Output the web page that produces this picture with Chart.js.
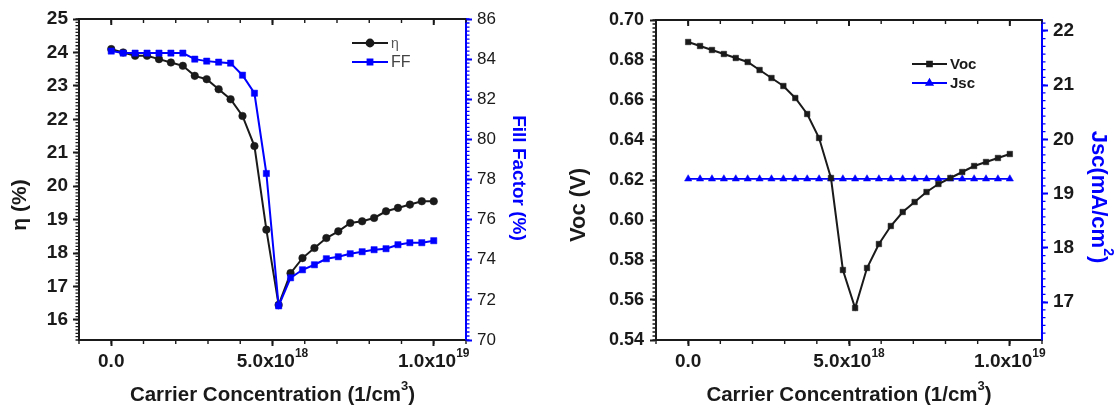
<!DOCTYPE html>
<html>
<head>
<meta charset="utf-8">
<script src="https://cdn.jsdelivr.net/npm/chart.js@4.4.1/dist/chart.umd.min.js"></script>
<style>
  html, body { margin: 0; padding: 0; background: #fff; }
  #wrap { position: relative; width: 1118px; height: 410px; overflow: hidden; background: #fff; }
  #wrap canvas { position: absolute; top: 0; }
  #cvEta { left: 0; }
  #cvVoc { left: 560px; }
</style>
</head>
<body>
<div id="wrap">
  <canvas id="cvEta" width="550" height="410"></canvas>
  <canvas id="cvVoc" width="558" height="410"></canvas>
</div>
<script>
const FONT = '"Liberation Sans", Arial, Helvetica, sans-serif';
const INK = '#1a1a1a';
const BLUE = '#0000ff';

// carrier concentration (1/cm3) of each simulated point
const carrier = [0, 3.7e17, 7.4e17, 1.11e18, 1.48e18, 1.85e18, 2.22e18, 2.59e18, 2.96e18, 3.33e18,
  3.70e18, 4.07e18, 4.44e18, 4.81e18, 5.19e18, 5.56e18, 5.93e18, 6.30e18, 6.67e18, 7.04e18,
  7.41e18, 7.78e18, 8.15e18, 8.52e18, 8.89e18, 9.26e18, 9.63e18, 1.0e19];

// efficiency (%) and fill factor (%)
const eta = [24.1, 24.0, 23.9, 23.9, 23.8, 23.7, 23.6, 23.3, 23.2, 22.9,
  22.6, 22.1, 21.2, 18.7, 16.45, 17.4, 17.85, 18.15, 18.45, 18.65,
  18.9, 18.95, 19.05, 19.25, 19.35, 19.45, 19.55, 19.55];
const fillFactor = [84.4, 84.3, 84.3, 84.3, 84.3, 84.3, 84.3, 84.0, 83.9, 83.85,
  83.8, 83.2, 82.3, 78.3, 71.7, 73.1, 73.5, 73.75, 74.05, 74.15,
  74.3, 74.4, 74.5, 74.55, 74.75, 74.85, 74.85, 74.95];

// open circuit voltage (V) and short circuit current (mA/cm2)
const voc = [0.689, 0.687, 0.685, 0.683, 0.681, 0.679, 0.675, 0.671, 0.667, 0.661,
  0.653, 0.641, 0.621, 0.575, 0.556, 0.576, 0.588, 0.597, 0.604, 0.609,
  0.614, 0.618, 0.621, 0.624, 0.627, 0.629, 0.631, 0.633];
const jsc = [19.27, 19.27, 19.27, 19.27, 19.27, 19.27, 19.27, 19.27, 19.27, 19.27,
  19.27, 19.27, 19.27, 19.27, 19.27, 19.27, 19.27, 19.27, 19.27, 19.27,
  19.27, 19.27, 19.27, 19.27, 19.27, 19.27, 19.27, 19.27];

// axis ticks
const xMajor = [0, 5e18, 1e19];
const xTickBase = ['0.0', '5.0x10', '1.0x10'];
const xTickExp = ['', '18', '19'];
const etaTicks = [16, 17, 18, 19, 20, 21, 22, 23, 24, 25];
const ffTicks = [70, 72, 74, 76, 78, 80, 82, 84, 86];
const vocTicks = [0.54, 0.56, 0.58, 0.60, 0.62, 0.64, 0.66, 0.68, 0.70];
const jscTicks = [17, 18, 19, 20, 21, 22];

const pts = ys => carrier.map((x, i) => ({ x, y: ys[i] }));

// text made of runs: [text, size, raise]
function drawRuns(ctx, runs, x, y, color) {
  let w = 0;
  runs.forEach(r => { ctx.font = `bold ${r[1]}px ${FONT}`; w += ctx.measureText(r[0]).width; });
  let cx = x - w / 2;
  ctx.fillStyle = color;
  ctx.textAlign = 'left';
  ctx.textBaseline = 'middle';
  runs.forEach(r => {
    ctx.font = `bold ${r[1]}px ${FONT}`;
    ctx.fillText(r[0], cx, y - (r[2] || 0));
    cx += ctx.measureText(r[0]).width;
  });
}

function minorTicks(ctx, scale, step, from, len, vertical) {
  const n0 = Math.ceil(scale.min / step - 1e-6), n1 = Math.floor(scale.max / step + 1e-6);
  ctx.beginPath();
  for (let n = n0; n <= n1; n++) {
    const p = scale.getPixelForValue(n * step);
    if (vertical) { ctx.moveTo(p, from); ctx.lineTo(p, from + len); }
    else { ctx.moveTo(from, p); ctx.lineTo(from + len, p); }
  }
  ctx.stroke();
}

// frame, minor ticks, superscript labels, titles and legend
function decor(spec) {
  return {
    id: 'decor',
    afterDraw(chart) {
      const ctx = chart.ctx, a = chart.chartArea, xs = chart.scales.x;
      ctx.save();
      ctx.lineWidth = 1.4;
      ctx.strokeStyle = INK;
      minorTicks(ctx, xs, 1e18, a.bottom, 4, true);
      minorTicks(ctx, xs, 1e18, a.top, 4, true);
      ctx.lineWidth = 2;
      ctx.beginPath();
      xMajor.forEach(v => { const p = xs.getPixelForValue(v); ctx.moveTo(p, a.top); ctx.lineTo(p, a.top + 6); });
      ctx.moveTo(a.left, a.top); ctx.lineTo(a.right, a.top);
      ctx.stroke();

      spec.yMinor.forEach(([id, step, color]) => {
        const s = chart.scales[id];
        ctx.strokeStyle = color;
        ctx.lineWidth = 1.3;
        if (s.position === 'left') minorTicks(ctx, s, step, a.left, -3.5, false);
        else minorTicks(ctx, s, step, a.right, 3.5, false);
      });

      xMajor.forEach((v, i) => {
        const p = xs.getPixelForValue(v);
        const runs = [[xTickBase[i], 19]];
        if (xTickExp[i]) runs.push([xTickExp[i], 12, 8]);
        drawRuns(ctx, runs, p, 362, INK);
      });
      drawRuns(ctx, [['Carrier Concentration (1/cm', 20.5], ['3', 13, 9], [')', 20.5]],
        (a.left + a.right) / 2, 395, INK);

      spec.titles.forEach(t => {
        ctx.save();
        ctx.translate(t.x, t.y);
        ctx.rotate(t.rot);
        drawRuns(ctx, t.runs, 0, 0, t.color);
        ctx.restore();
      });

      const lg = spec.legend;
      lg.rows.forEach(r => {
        const ds = chart.data.datasets[r.ds];
        ctx.strokeStyle = ds.borderColor;
        ctx.fillStyle = ds.backgroundColor;
        ctx.lineWidth = 2;
        ctx.beginPath();
        ctx.moveTo(lg.x1, r.y); ctx.lineTo(lg.x2, r.y);
        ctx.stroke();
        Chart.helpers.drawPoint(ctx, { pointStyle: ds.pointStyle, radius: lg.radius, rotation: 0, borderWidth: 1 },
          (lg.x1 + lg.x2) / 2, r.y);
        ctx.fillStyle = r.color;
        ctx.font = r.font;
        ctx.textAlign = 'left';
        ctx.textBaseline = 'middle';
        ctx.fillText(ds.label, lg.x2 + 3, r.y + 1);
      });
      ctx.restore();
    }
  };
}

function xScale() {
  return {
    type: 'linear', min: -1e18, max: 1.1e19,
    afterBuildTicks: s => { s.ticks = xMajor.map(v => ({ value: v })); },
    afterFit: s => { s.height = 70; },
    ticks: { display: false },
    grid: { drawOnChartArea: false, tickLength: 6, tickWidth: 2, tickColor: INK },
    border: { color: INK, width: 2 }
  };
}

function yScale(pos, min, max, ticks, color, width, font, pad, fmt) {
  return {
    type: 'linear', position: pos, min, max,
    afterBuildTicks: s => { s.ticks = ticks.map(v => ({ value: v })); },
    afterFit: s => { s.width = width; },
    ticks: { color: INK, font: Object.assign({ family: FONT }, font), padding: pad, callback: fmt },
    grid: { drawOnChartArea: false, tickLength: 6, tickWidth: 2, tickColor: color },
    border: { color, width: 2 }
  };
}

const baseOpts = top => ({
  responsive: false, animation: false, devicePixelRatio: 1,
  layout: { padding: { top, left: 0, right: 0, bottom: 0 } },
  plugins: { legend: { display: false }, tooltip: { enabled: false } }
});
const intFmt = v => String(v);

// efficiency / fill factor
new Chart(document.getElementById('cvEta'), {
  type: 'line',
  data: {
    datasets: [
      { label: 'η', data: pts(eta), yAxisID: 'yEta', order: 1, borderColor: INK, backgroundColor: INK,
        pointStyle: 'circle', pointRadius: 3.8, pointBorderWidth: 0.5, borderWidth: 2, tension: 0 },
      { label: 'FF', data: pts(fillFactor), yAxisID: 'yFF', order: 0, borderColor: BLUE, backgroundColor: BLUE,
        pointStyle: 'rect', pointRadius: 4.4, pointBorderWidth: 0.5, borderWidth: 2, tension: 0 }
    ]
  },
  options: Object.assign(baseOpts(19), {
    scales: {
      x: xScale(),
      yEta: yScale('left', 15.4, 25, etaTicks, INK, 79, { size: 19, weight: 'bold' }, 5, intFmt),
      yFF: yScale('right', 70, 86, ffTicks, BLUE, 84, { size: 17, weight: 'normal' }, 5, intFmt)
    }
  }),
  plugins: [decor({
    yMinor: [['yEta', 0.1, INK], ['yFF', 0.2, BLUE]],
    titles: [
      { runs: [['η (%)', 21]], x: 20, y: 205, rot: -Math.PI / 2, color: INK },
      { runs: [['Fill Factor (%)', 19]], x: 518, y: 178, rot: Math.PI / 2, color: BLUE }
    ],
    legend: {
      x1: 352, x2: 388, radius: 3.4,
      rows: [
        { ds: 0, y: 43, color: '#555', font: `14px ${FONT}` },
        { ds: 1, y: 62, color: '#444', font: `16px ${FONT}` }
      ]
    }
  })]
});

// open circuit voltage / short circuit current
new Chart(document.getElementById('cvVoc'), {
  type: 'line',
  data: {
    datasets: [
      { label: 'Voc', data: pts(voc), yAxisID: 'yVoc', order: 0, borderColor: INK, backgroundColor: INK,
        pointStyle: 'rect', pointRadius: 3.9, pointBorderWidth: 0.5, borderWidth: 2, tension: 0 },
      { label: 'Jsc', data: pts(jsc), yAxisID: 'yJsc', order: 1, borderColor: BLUE, backgroundColor: BLUE,
        pointStyle: 'triangle', pointRadius: 4.2, pointBorderWidth: 0.5, borderWidth: 1.6, tension: 0 }
    ]
  },
  options: Object.assign(baseOpts(20), {
    scales: {
      x: xScale(),
      yVoc: yScale('left', 0.54, 0.70, vocTicks, INK, 96, { size: 18, weight: 'bold' }, 6, v => v.toFixed(2)),
      yJsc: yScale('right', 16.3, 22.2, jscTicks, BLUE, 76, { size: 19, weight: 'bold' }, 5, intFmt)
    }
  }),
  plugins: [decor({
    yMinor: [['yVoc', 0.002, INK], ['yJsc', 1 / 7, BLUE]],
    titles: [
      { runs: [['Voc (V)', 22]], x: 19, y: 205, rot: -Math.PI / 2, color: INK },
      { runs: [['Jsc(mA/cm', 22], ['2', 14, 10], [')', 22]], x: 538, y: 197, rot: Math.PI / 2, color: BLUE }
    ],
    legend: {
      x1: 352, x2: 387, radius: 3.3,
      rows: [
        { ds: 0, y: 64, color: INK, font: `bold 15px ${FONT}` },
        { ds: 1, y: 83, color: INK, font: `bold 15px ${FONT}` }
      ]
    }
  })]
});
</script>
</body>
</html>
